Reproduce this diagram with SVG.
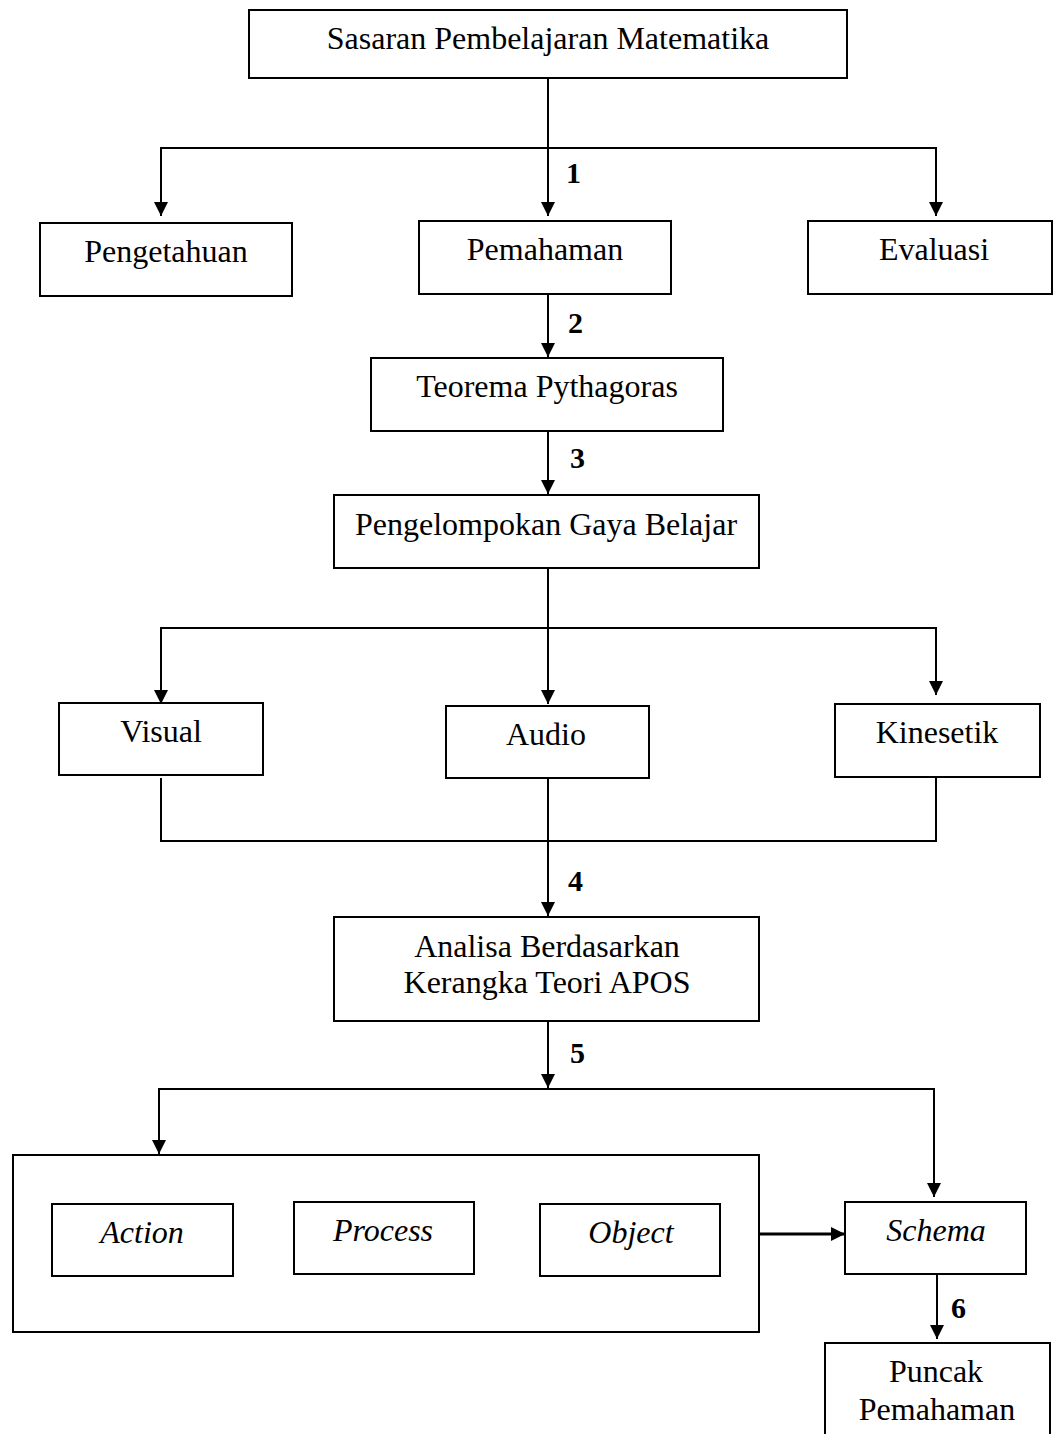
<svg xmlns="http://www.w3.org/2000/svg" width="1054" height="1434" viewBox="0 0 1054 1434">
<style>
.box{fill:#fff;stroke:#000;stroke-width:2}
.t{font-family:"Liberation Serif","Times New Roman",serif;font-size:32px;fill:#000;text-anchor:middle}
.i{font-style:italic}
.n{font-family:"Liberation Serif","Times New Roman",serif;font-size:30px;font-weight:bold;fill:#000}
.c{fill:none;stroke:#000;stroke-width:2}
</style>
<defs>
<marker id="ah" markerUnits="userSpaceOnUse" markerWidth="14" markerHeight="14" refX="14" refY="7" orient="auto">
<path d="M0,0 L14,7 L0,14 z" fill="#000"/>
</marker>
</defs>
<rect width="1054" height="1434" fill="#fff"/>
<g id="connectors">
<path class="c" d="M548,78 V216" marker-end="url(#ah)"/>
<path class="c" d="M161,216 V148 H936 V216" />
<path class="c" d="M161,200 V216" marker-end="url(#ah)"/>
<path class="c" d="M936,200 V216" marker-end="url(#ah)"/>
<path class="c" d="M548,294 V357" marker-end="url(#ah)"/>
<path class="c" d="M548,431 V494" marker-end="url(#ah)"/>
<path class="c" d="M548,568 V704" marker-end="url(#ah)"/>
<path class="c" d="M161,700 V628 H936 V690"/>
<path class="c" d="M161,690 V704" marker-end="url(#ah)"/>
<path class="c" d="M936,680 V695" marker-end="url(#ah)"/>
<path class="c" d="M161,778 V841 H936 V777"/>
<path class="c" d="M548,778 V916" marker-end="url(#ah)"/>
<path class="c" d="M548,1021 V1088" marker-end="url(#ah)"/>
<path class="c" d="M159,1153 V1089 H934 V1197"/>
<path class="c" d="M159,1140 V1154" marker-end="url(#ah)"/>
<path class="c" d="M934,1180 V1197" marker-end="url(#ah)"/>
<path class="c" style="stroke-width:3" d="M759,1234 H845" marker-end="url(#ah)"/>
<path class="c" d="M937,1274 V1339" marker-end="url(#ah)"/>
<text class="n" x="566" y="183">1</text>
<text class="n" x="568" y="333">2</text>
<text class="n" x="570" y="468">3</text>
<text class="n" x="568" y="891">4</text>
<text class="n" x="570" y="1063">5</text>
<text class="n" x="951" y="1318">6</text>
</g>
<g id="n-sasaran"><rect class="box" x="249" y="10" width="598" height="68"/><text class="t" x="548" y="49">Sasaran Pembelajaran Matematika</text></g>
<g id="n-pengetahuan"><rect class="box" x="40" y="223" width="252" height="73"/><text class="t" x="166" y="262">Pengetahuan</text></g>
<g id="n-pemahaman"><rect class="box" x="419" y="221" width="252" height="73"/><text class="t" x="545" y="260">Pemahaman</text></g>
<g id="n-evaluasi"><rect class="box" x="808" y="221" width="244" height="73"/><text class="t" x="934" y="260">Evaluasi</text></g>
<g id="n-teorema"><rect class="box" x="371" y="358" width="352" height="73"/><text class="t" x="547" y="397">Teorema Pythagoras</text></g>
<g id="n-pengelompokan"><rect class="box" x="334" y="495" width="425" height="73"/><text class="t" x="546" y="535">Pengelompokan Gaya Belajar</text></g>
<g id="n-visual"><rect class="box" x="59" y="703" width="204" height="72"/><text class="t" x="161" y="742">Visual</text></g>
<g id="n-audio"><rect class="box" x="446" y="706" width="203" height="72"/><text class="t" x="546" y="745">Audio</text></g>
<g id="n-kinesetik"><rect class="box" x="835" y="704" width="205" height="73"/><text class="t" x="937" y="743">Kinesetik</text></g>
<g id="n-analisa"><rect class="box" x="334" y="917" width="425" height="104"/><text class="t" x="547" y="957">Analisa Berdasarkan</text><text class="t" x="547" y="993">Kerangka Teori APOS</text></g>
<g id="n-apo"><rect class="box" x="13" y="1155" width="746" height="177"/></g>
<g id="n-action"><rect class="box" x="52" y="1204" width="181" height="72"/><text class="t i" x="142" y="1243">Action</text></g>
<g id="n-process"><rect class="box" x="294" y="1202" width="180" height="72"/><text class="t i" x="383" y="1241">Process</text></g>
<g id="n-object"><rect class="box" x="540" y="1204" width="180" height="72"/><text class="t i" x="631" y="1243">Object</text></g>
<g id="n-schema"><rect class="box" x="845" y="1202" width="181" height="72"/><text class="t i" x="936" y="1241">Schema</text></g>
<g id="n-puncak"><path class="box" d="M825,1436 V1343 H1050 V1436"/><text class="t" x="936" y="1382">Puncak</text><text class="t" x="937" y="1420">Pemahaman</text></g>
</svg>
